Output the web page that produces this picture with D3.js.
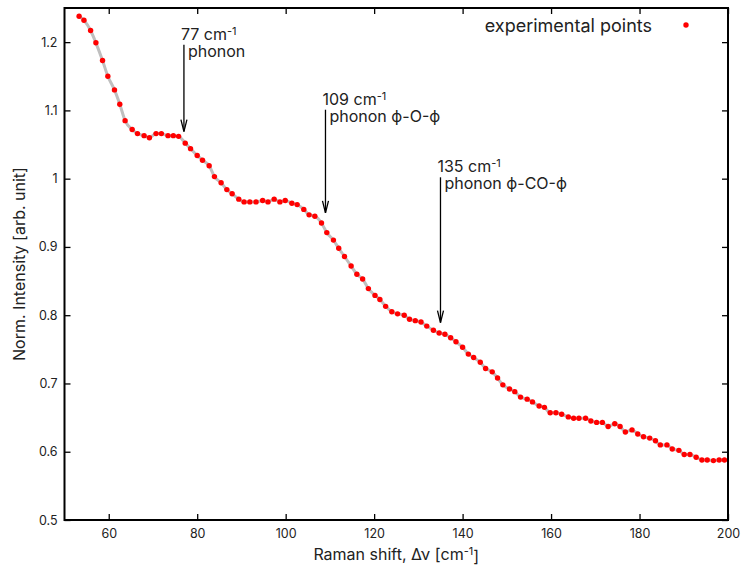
<!DOCTYPE html>
<html>
<head>
<meta charset="utf-8">
<script src="https://cdn.jsdelivr.net/npm/d3@7"></script>
<style>
    body { margin: 0; background: #fff; }
    text { font-family: Inter, "Noto Sans", sans-serif; fill: #222; }
</style>
</head>
<body>
<div id="chart"></div>
<script>
// raman shift (cm^-1) and normalised intensity
const shift = [
    53.3, 54.4, 55.9, 57.1, 58.6, 59.8, 61.3, 62.5, 63.7, 65.3,
    66.5, 68.0, 69.2, 70.7, 71.9, 73.4, 74.6, 75.8, 77.3, 78.5,
    80.0, 81.2, 82.7, 83.9, 85.4, 86.7, 87.9, 89.4, 90.6, 91.9,
    93.3, 94.8, 96.0, 97.4, 98.7, 99.9, 101.4, 102.6, 104.1, 105.3,
    106.6, 108.1, 109.3, 110.8, 112.0, 113.3, 114.8, 116.1, 117.4, 118.7,
    120.2, 121.3, 122.6, 124.0, 125.3, 126.8, 128.0, 129.3, 130.6, 131.9,
    133.4, 134.7, 136.0, 137.3, 138.5, 140.0, 141.3, 142.5, 144.0, 145.2,
    146.7, 147.9, 149.1, 150.6, 151.8, 153.1, 154.6, 155.8, 157.3, 158.5,
    159.8, 161.1, 162.4, 163.9, 165.1, 166.3, 167.8, 169.0, 170.3, 171.6,
    172.9, 174.4, 175.6, 176.8, 178.3, 179.6, 180.9, 182.3, 183.6, 184.7,
    186.2, 187.4, 188.9, 190.1, 191.4, 192.8, 194.1, 195.3, 196.7, 198.0,
    199.2
];
const intensity = [
    1.238, 1.232, 1.217, 1.199, 1.173, 1.150, 1.130, 1.109, 1.085, 1.072,
    1.066, 1.063, 1.060, 1.066, 1.066, 1.063, 1.063, 1.062, 1.052, 1.044,
    1.034, 1.027, 1.019, 1.003, 0.994, 0.984, 0.978, 0.970, 0.966, 0.966,
    0.966, 0.968, 0.966, 0.970, 0.966, 0.968, 0.964, 0.962, 0.955, 0.947,
    0.945, 0.935, 0.921, 0.910, 0.898, 0.886, 0.872, 0.860, 0.853, 0.839,
    0.829, 0.823, 0.813, 0.805, 0.802, 0.800, 0.794, 0.792, 0.790, 0.784,
    0.778, 0.774, 0.772, 0.767, 0.761, 0.753, 0.743, 0.738, 0.731, 0.722,
    0.717, 0.708, 0.698, 0.692, 0.688, 0.680, 0.677, 0.673, 0.667, 0.665,
    0.657, 0.657, 0.655, 0.651, 0.649, 0.649, 0.649, 0.645, 0.643, 0.643,
    0.637, 0.641, 0.637, 0.629, 0.632, 0.626, 0.622, 0.620, 0.616, 0.610,
    0.610, 0.604, 0.602, 0.596, 0.596, 0.592, 0.588, 0.588, 0.587, 0.588,
    0.588
];

const xTicks = [60, 80, 100, 120, 140, 160, 180, 200];
const yTicks = [0.5, 0.6, 0.7, 0.8, 0.9, 1.0, 1.1, 1.2];

// annotated peaks: position, arrow start / end intensity, label
const peakPos = [77, 109, 135];
const arrowFrom = [1.196, 1.101, 1.002];
const arrowTo = [1.069, 0.950, 0.789];
const peakMode = ["phonon", "phonon \u03d5-O-\u03d5", "phonon \u03d5-CO-\u03d5"];

document.addEventListener("DOMContentLoaded", () => {
    let data = shift.map((s, i) => ({ x: s, y: intensity[i] }));
    renderSpectrum(data);
});

function renderSpectrum(data) {
    let width = 744;
    let height = 567;
    let margin = { top: 8, right: 16, bottom: 47, left: 64.5 };
    let plotW = width - margin.left - margin.right;
    let plotH = height - margin.top - margin.bottom;

    let svg = d3.select("#chart")
        .append("svg")
        .attr("width", width)
        .attr("height", height);

    let xScale = d3.scaleLinear().domain([50, 200]).range([0, plotW]);
    let yScale = d3.scaleLinear().domain([0.5, 1.25]).range([plotH, 0]);

    let g = svg.append("g")
        .attr("transform", `translate(${margin.left}, ${margin.top})`);

    // ticks point inwards on all four sides, like gnuplot
    g.append("g")
        .attr("transform", `translate(0, ${plotH})`)
        .call(d3.axisBottom(xScale).tickValues(xTicks).tickSizeInner(-6).tickSizeOuter(0).tickPadding(9));
    g.append("g")
        .call(d3.axisTop(xScale).tickValues(xTicks).tickSizeInner(-6).tickSizeOuter(0).tickFormat(""));
    g.append("g")
        .call(d3.axisLeft(yScale).tickValues(yTicks).tickSizeInner(-6).tickSizeOuter(0).tickPadding(7)
            .tickFormat(d3.format("~g")));
    g.append("g")
        .attr("transform", `translate(${plotW}, 0)`)
        .call(d3.axisRight(yScale).tickValues(yTicks).tickSizeInner(-6).tickSizeOuter(0).tickFormat(""));

    g.selectAll(".domain").remove();
    g.selectAll(".tick line").attr("stroke", "#000").attr("stroke-width", 1.3);
    g.selectAll(".tick text")
        .attr("font-size", "12.5px")
        .attr("font-family", "Inter, sans-serif")
        .attr("fill", "#222");

    // smoothed curve under the points
    let line = d3.line()
        .x(d => xScale(d.x))
        .y(d => yScale(d.y))
        .curve(d3.curveMonotoneX);

    g.append("path")
        .datum(data)
        .attr("fill", "none")
        .attr("stroke", "#bfbfbf")
        .attr("stroke-width", 3)
        .attr("d", line);

    g.selectAll(".dot")
        .data(data)
        .join("circle")
        .attr("class", "dot")
        .attr("cx", d => xScale(d.x))
        .attr("cy", d => yScale(d.y))
        .attr("r", 2.7)
        .attr("fill", "#ff0000");

    // frame
    g.append("rect")
        .attr("width", plotW)
        .attr("height", plotH)
        .attr("fill", "none")
        .attr("stroke", "#000")
        .attr("stroke-width", 2);

    // annotations with arrows
    peakPos.forEach((p, i) => {
        let ax = xScale(p);
        let y1 = yScale(arrowFrom[i]);
        let y2 = yScale(arrowTo[i]);
        g.append("line")
            .attr("x1", ax).attr("y1", y1)
            .attr("x2", ax).attr("y2", y2)
            .attr("stroke", "#000")
            .attr("stroke-width", 1.3);
        g.append("path")
            .attr("d", `M${ax - 3},${y2 - 12} L${ax},${y2} L${ax + 3},${y2 - 12}`)
            .attr("fill", "none")
            .attr("stroke", "#000")
            .attr("stroke-width", 1.3);

        let top = g.append("text")
            .attr("x", ax - 3)
            .attr("y", y1 - 5)
            .attr("font-size", "16px");
        top.append("tspan").text(`${p} cm`);
        top.append("tspan")
            .attr("dy", "-0.45em")
            .attr("font-size", "11px")
            .text("-1");
        g.append("text")
            .attr("x", ax + 4)
            .attr("y", y1 + 12)
            .attr("font-size", "16px")
            .text(peakMode[i]);
    });

    // legend
    svg.append("text")
        .attr("x", 652)
        .attr("y", 32)
        .attr("text-anchor", "end")
        .attr("font-size", "18px")
        .text("experimental points");
    svg.append("circle")
        .attr("cx", 686)
        .attr("cy", 25)
        .attr("r", 2.7)
        .attr("fill", "#ff0000");

    // axis titles
    let xTitle = svg.append("text")
        .attr("x", margin.left + plotW / 2)
        .attr("y", 560)
        .attr("text-anchor", "middle")
        .attr("font-size", "16px");
    xTitle.append("tspan").text("Raman shift, \u0394\u03bd [cm");
    xTitle.append("tspan").attr("dy", "-0.45em").attr("font-size", "11px").text("-1");
    xTitle.append("tspan").attr("dy", "0.45em").text("]");

    svg.append("text")
        .attr("transform", `translate(25, ${margin.top + plotH / 2}) rotate(-90)`)
        .attr("text-anchor", "middle")
        .attr("font-size", "16px")
        .text("Norm. Intensity [arb. unit]");
}
</script>
</body>
</html>
